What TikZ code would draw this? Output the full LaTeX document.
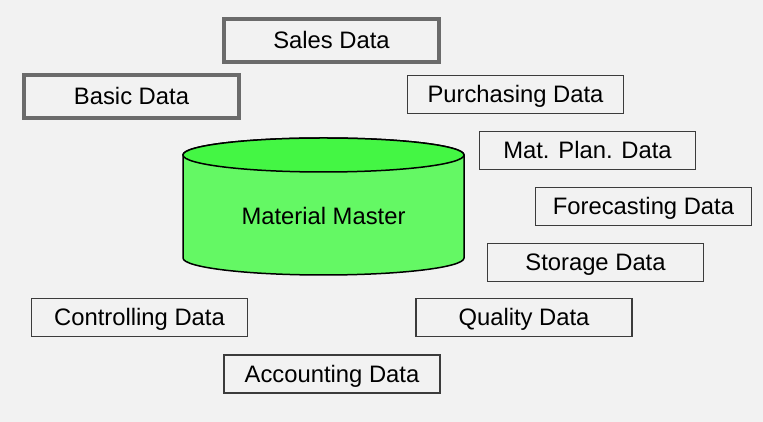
\documentclass[tikz,border=0pt]{standalone}
\usepackage{fontspec}
\setmainfont{Liberation Sans}
\usepackage{tikz}
\usetikzlibrary{positioning}
\definecolor{bgcolor}{RGB}{242,242,242}
\definecolor{bodygreen}{RGB}{100,248,100}
\definecolor{topgreen}{RGB}{68,246,68}
\definecolor{framegray}{RGB}{107,107,107}
\definecolor{linegray}{RGB}{60,60,60}

\begin{document}
\begin{tikzpicture}[
    x=1pt, y=1pt,
    label/.style={font=\fontsize{23.8}{28}\selectfont, text height=17pt, text depth=0pt},
    box/.style={label, draw=linegray, line width=1.2pt, minimum width=216pt, minimum height=38pt, inner sep=0pt},
    mainbox/.style={label, draw=framegray, line width=4pt, minimum width=215pt, minimum height=43pt, inner sep=0pt}
]
    \fill[bgcolor] (0,0) rectangle (763,422);

    \node[mainbox] (sales) at (331.5,381.5) {Sales Data};
    \node[mainbox] (basic) at (131.5,325.5) {Basic Data};

    \node[box] (purchasing) at (515.5,327.5) {Purchasing Data};
    \node[box] (matplan) at (587.5,271.5) {Mat. Plan. Data};
    \node[box] (forecast) at (643.5,215.5) {Forecasting Data};
    \node[box] (storage) at (595.5,159.5) {Storage Data};
    \node[box] (quality) at (524,104.5) {Quality Data};
    \node[box] (controlling) at (139.5,104.5) {Controlling Data};
    \node[box] (accounting) at (332,48) {Accounting Data};

    \draw[line width=1.5pt, fill=bodygreen] (183,267) -- (183,164)
        arc[start angle=180, end angle=360, x radius=140.5pt, y radius=17pt]
        -- (464,267) arc[start angle=0, end angle=180, x radius=140.5pt, y radius=17pt] -- cycle;
    \draw[line width=1.5pt, fill=topgreen] (323.5,267) ellipse [x radius=140.5pt, y radius=17pt];
    \node[label] (master) at (323.5,206) {Material Master};
\end{tikzpicture}
\end{document}
